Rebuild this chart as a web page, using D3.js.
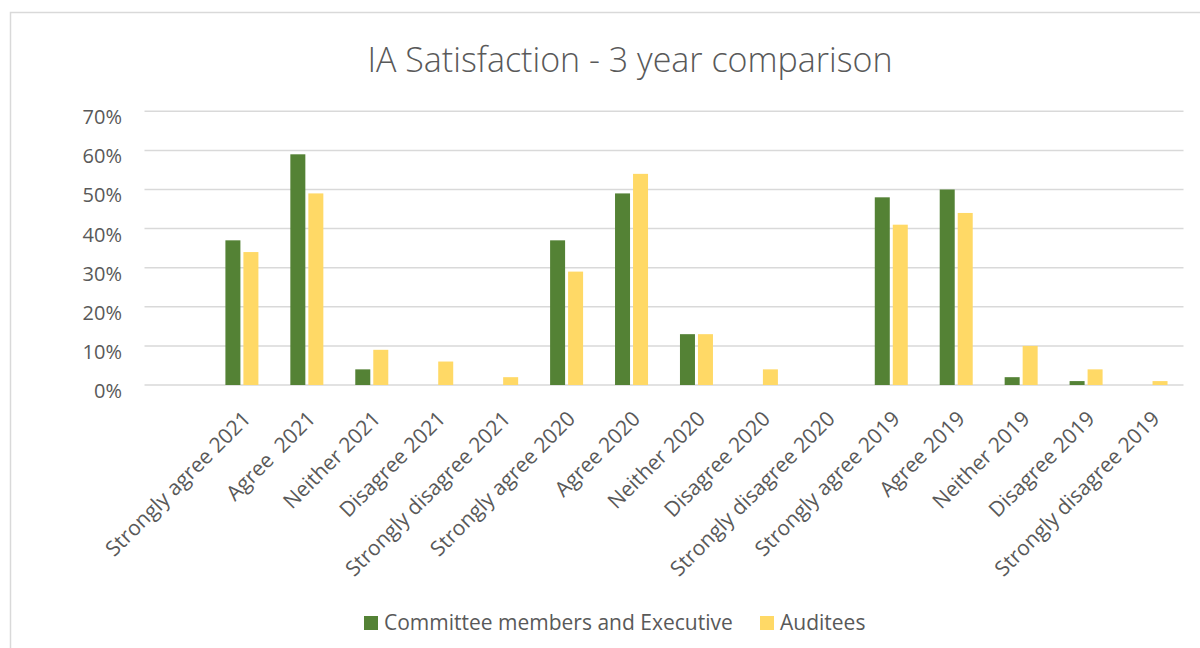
<!DOCTYPE html>
<html>
<head>
<meta charset="utf-8">
<script src="https://cdn.jsdelivr.net/npm/d3@7"></script>
<style>
  html, body { margin: 0; padding: 0; background: #fff; }
  svg { display: block; }
  text { font-family: "Open Sans", "Noto Sans", sans-serif; fill: #595959; white-space: pre; }
</style>
</head>
<body>
<svg id="chart" width="1200" height="648"></svg>
<script>
const categories = ["", "Strongly agree 2021", "Agree  2021", "Neither 2021", "Disagree 2021", "Strongly disagree 2021",
  "Strongly agree 2020", "Agree 2020", "Neither 2020", "Disagree 2020", "Strongly disagree 2020",
  "Strongly agree 2019", "Agree 2019", "Neither 2019", "Disagree 2019", "Strongly disagree 2019"];
const committeeValues = [null, 37, 59, 4, 0, 0, 37, 49, 13, 0, 0, 48, 50, 2, 1, 0];
const auditeeValues   = [null, 34, 49, 9, 6, 2, 29, 54, 13, 4, 0, 41, 44, 10, 4, 1];
const seriesNames = ["Committee members and Executive", "Auditees"];
const seriesColors = ["#548235", "#FFD966"];
const yTicks = [0, 10, 20, 30, 40, 50, 60, 70];
const title = "IA Satisfaction - 3 year comparison";

const svg = d3.select("#chart");

// chart border
svg.append("rect").attr("x", 10.5).attr("y", 12.5).attr("width", 1300).attr("height", 700)
  .attr("fill", "none").attr("stroke", "#d9d9d9").attr("stroke-width", 1.5);

const plot = { left: 144.5, right: 1183.5, top: 111.3, bottom: 385 };

const x = d3.scaleBand().domain(categories).range([plot.left, plot.right]).paddingInner(0).paddingOuter(0);
const y = d3.scaleLinear().domain([0, 70]).range([plot.bottom, plot.top]);

// gridlines
svg.append("g").selectAll("line").data(yTicks).join("line")
  .attr("x1", plot.left).attr("x2", plot.right)
  .attr("y1", d => y(d)).attr("y2", d => y(d))
  .attr("stroke", "#d9d9d9").attr("stroke-width", 1.5);

// y axis labels
const yAxis = d3.axisLeft(y).tickValues(yTicks).tickFormat(d => d + "%").tickSize(0).tickPadding(0);
const yg = svg.append("g").attr("transform", "translate(122,0)").call(yAxis);
yg.select(".domain").remove();
yg.selectAll("text").attr("font-size", 20).attr("fill", "#595959")
  .attr("font-family", "Open Sans").attr("dy", "0.62em").attr("x", 0);

// bars
const bw = 15, gap = 3;
const series = [committeeValues, auditeeValues];
series.forEach((vals, si) => {
  svg.append("g").selectAll("rect")
    .data(categories.map((c, i) => ({ c, v: vals[i] })).filter(d => d.v !== null))
    .join("rect")
    .attr("x", d => x(d.c) + x.bandwidth() / 2 + (si === 0 ? -(bw + gap / 2) : gap / 2))
    .attr("width", bw)
    .attr("y", d => y(d.v))
    .attr("height", d => y(0) - y(d.v))
    .attr("fill", seriesColors[si]);
});

// x axis labels (rotated)
const xAxis = d3.axisBottom(x).tickSize(0).tickPadding(0);
const xg = svg.append("g").attr("transform", `translate(0,${plot.bottom})`).call(xAxis);
xg.select(".domain").remove();
xg.selectAll(".tick text")
  .attr("font-size", 21).attr("fill", "#595959").attr("font-family", "Open Sans")
  .style("white-space", "pre")
  .attr("text-anchor", "end")
  .attr("dy", 0).attr("y", 0)
  .attr("transform", "translate(10,35) rotate(-45)");

// title
svg.append("text").attr("x", 630).attr("y", 72).attr("text-anchor", "middle")
  .attr("font-size", 34).attr("font-weight", 300).text(title);

// legend
const legendItems = [{ name: seriesNames[0], color: seriesColors[0], x: 364 }, { name: seriesNames[1], color: seriesColors[1], x: 760 }];
const lg = svg.append("g");
legendItems.forEach(it => {
  lg.append("rect").attr("x", it.x).attr("y", 616).attr("width", 14).attr("height", 14).attr("fill", it.color);
  lg.append("text").attr("x", it.x + 20).attr("y", 630).attr("font-size", 21).text(it.name);
});
</script>
</body>
</html>
